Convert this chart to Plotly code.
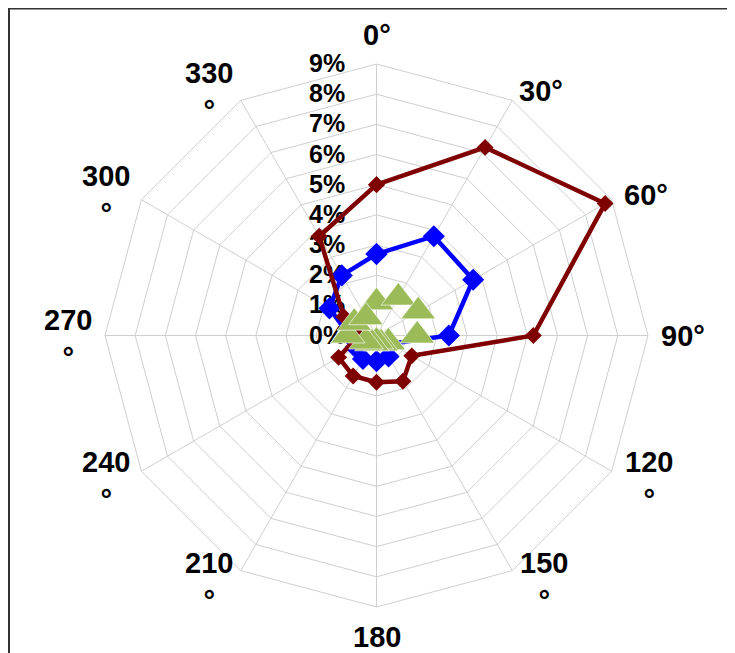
import plotly.graph_objects as go

directions = ["0", "30", "60", "90", "120", "150", "180", "210", "240", "270", "300", "330"]
label_text = ["0°", "30°", "60°", "90°", "120<br>°", "150<br>°", "180<br>°",
              "210<br>°", "240<br>°", "270<br>°", "300<br>°", "330<br>°"]

blue_vals = [2.7, 3.8, 3.7, 2.4, 0.55, 0.8, 0.85, 0.9, 0.8, 0.9, 1.8, 2.3]
brown_vals = [5.0, 7.2, 8.75, 5.2, 1.35, 1.75, 1.55, 1.55, 1.45, 0.6, 1.25, 3.8]
green_vals = [1.1, 1.45, 1.6, 1.35, 0.45, 0.3, 0.2, 0.3, 0.4, 0.95, 0.85, 0.7]


def closed(v):
    return list(v) + [v[0]]


theta = closed(directions)

fig = go.Figure()
fig.add_trace(go.Scatterpolar(
    r=closed(blue_vals), theta=theta, mode="lines+markers",
    line=dict(color="#0000FF", width=4.5),
    marker=dict(symbol="diamond", size=17, color="#0000FF"),
    name="blue"))
fig.add_trace(go.Scatterpolar(
    r=closed(brown_vals), theta=theta, mode="lines+markers",
    line=dict(color="#7F0000", width=4.5),
    marker=dict(symbol="diamond", size=13, color="#7F0000"),
    name="brown"))
fig.add_trace(go.Scatterpolar(
    r=green_vals, theta=directions, mode="markers",
    marker=dict(symbol="triangle-up", size=30, color="#9BBB59",
                line=dict(color="rgba(255,255,255,0.8)", width=0.8)),
    name="green"))

W, H = 735, 653
cx, cy, R = 368.5, 327.5, 271.5  # figure coordinates (page has an 8px body margin)

# Direction labels: placed around the polygon as offsets (px) from the
# chart centre, converted to paper coordinates.
label_offsets = [(0, -301), (164, -245), (269, -141), (306, 0),
                 (272, 145), (167, 246), (0, 320), (-168, 246),
                 (-271, 145), (-309, 3), (-271, -140), (-168, -244)]
annotations = []
for txt, (dx, dy) in zip(label_text, label_offsets):
    annotations.append(dict(
        text=txt, xref="paper", yref="paper",
        x=(cx + dx) / W, y=1 - (cy + dy) / H,
        xanchor="center", yanchor="middle", showarrow=False, align="center",
        font=dict(size=29, weight="bold", color="black",
                  family="Liberation Sans, Arial, sans-serif")))

fig.update_layout(
    width=W, height=H,
    margin=dict(l=0, r=0, t=0, b=0),
    paper_bgcolor="white",
    showlegend=False,
    font=dict(family="Liberation Sans, Arial, sans-serif", color="black"),
    polar=dict(
        domain=dict(x=[(cx - R) / W, (cx + R) / W],
                    y=[1 - (cy + R) / H, 1 - (cy - R) / H]),
        bgcolor="white",
        gridshape="linear",
        angularaxis=dict(
            type="category", categoryarray=directions,
            rotation=90, direction="clockwise",
            showticklabels=False, ticks="",
            showline=True, linecolor="#CFCFCF", linewidth=1,
            gridcolor="#CFCFCF", gridwidth=1,
            layer="below traces",
        ),
        radialaxis=dict(
            range=[0, 9], dtick=1, tick0=0, ticksuffix="%",
            angle=90, side="counterclockwise", tickangle=90,
            showline=False, gridcolor="#CFCFCF", gridwidth=1,
            ticks="outside", ticklen=22, tickcolor="rgba(0,0,0,0)",
            tickfont=dict(size=25, weight="bold", color="black"),
            layer="below traces",
        ),
    ),
    annotations=annotations,
    shapes=[dict(type="rect", xref="paper", yref="paper",
                 x0=1 / W, x1=725 / W, y0=-0.05, y1=1 - 0.5 / H,
                 line=dict(color="#333333", width=2))],
)

fig.write_html("out.html")
